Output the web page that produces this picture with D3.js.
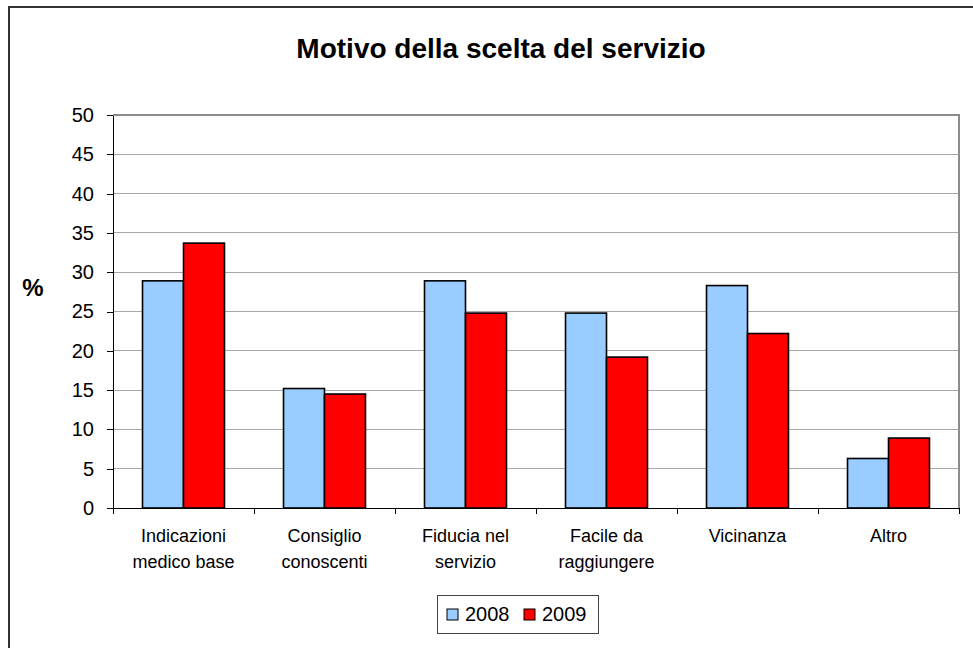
<!DOCTYPE html>
<html>
<head>
<meta charset="utf-8">
<script src="https://cdn.jsdelivr.net/npm/d3@7"></script>
<style>
  body { margin: 0; background: #fff; }
  svg { display: block; font-family: "Liberation Sans", Arial, sans-serif; }
  .axis path, .axis line { stroke: #000; shape-rendering: crispEdges; }
  .axis text { fill: #000; }
</style>
</head>
<body>
<svg id="chart"></svg>
<script>
// Data
const categories = ["Indicazioni\nmedico base", "Consiglio\nconoscenti", "Fiducia nel\nservizio",
                    "Facile da\nraggiungere", "Vicinanza", "Altro"];
const years = ["2008", "2009"];
const values2008 = [28.9, 15.2, 28.9, 24.8, 28.3, 6.3];
const values2009 = [33.7, 14.5, 24.8, 19.2, 22.2, 8.9];
const yTicks = [0, 5, 10, 15, 20, 25, 30, 35, 40, 45, 50];
const colors = {"2008": "#99ccff", "2009": "#ff0000"};

const W = 973, H = 648;
const margin = {top: 115, right: 14, bottom: 140, left: 113},
      width = W - margin.left - margin.right,
      height = H - margin.top - margin.bottom;

const rows = categories.map((c, i) => ({cat: c, "2008": values2008[i], "2009": values2009[i]}));

const svg = d3.select("#chart").attr("width", W).attr("height", H);

// Outer chart frame
svg.append("rect")
   .attr("x", 9).attr("y", 7)
   .attr("width", 1000).attr("height", 700)
   .style("fill", "none")
   .style("stroke", "#333")
   .style("stroke-width", 2);

// Title
svg.append("text")
   .attr("x", 501).attr("y", 58)
   .style("text-anchor", "middle")
   .style("font-weight", "bold")
   .style("font-size", "28px")
   .text("Motivo della scelta del servizio");

const chart = svg.append("g")
   .attr("transform", "translate(" + margin.left + "," + margin.top + ")");

// Scales
let x = d3.scaleBand()
          .domain(categories)
          .range([0, width])
          .paddingInner(0).paddingOuter(0);

let x1 = d3.scaleBand()
           .domain(years)
           .range([0, x.bandwidth()])
           .paddingInner(0).paddingOuter(0.72);

let y = d3.scaleLinear()
          .domain([0, 50])
          .range([height, 0]);

// Gridlines
chart.selectAll(".grid")
     .data(yTicks.filter(d => d > 0 && d < 50))
     .enter().append("line")
     .attr("class", "grid")
     .attr("x1", 0).attr("x2", width)
     .attr("y1", d => y(d)).attr("y2", d => y(d))
     .style("stroke", "#a8a8a8")
     .style("shape-rendering", "crispEdges");

// Plot border (top + right)
chart.append("path")
     .attr("d", "M0," + y(50) + "H" + width + "V" + y(0))
     .style("fill", "none")
     .style("stroke", "#8c8c8c")
     .style("stroke-width", 2);

// Bars
chart.selectAll(".group")
     .data(rows)
     .enter().append("g")
     .attr("class", "group")
     .attr("transform", d => "translate(" + x(d.cat) + ",0)")
     .selectAll("rect")
     .data(d => years.map(k => ({key: k, value: d[k]})))
     .enter().append("rect")
     .attr("x", d => x1(d.key))
     .attr("y", d => y(d.value))
     .attr("width", x1.bandwidth())
     .attr("height", d => y(0) - y(d.value))
     .style("fill", d => colors[d.key])
     .style("stroke", "#000")
     .style("stroke-width", 1.6);

// y-Axis
chart.append("g")
     .attr("class", "axis")
     .call(d3.axisLeft(y).tickValues(yTicks).tickSize(6).tickSizeOuter(0).tickPadding(13))
     .call(g => g.selectAll("text").style("font-size", "20px"));

// x-Axis (line + labels)
const xAxisG = chart.append("g")
     .attr("class", "axis")
     .attr("transform", "translate(0," + height + ")")
     .call(d3.axisBottom(x).tickSize(0).tickSizeOuter(0).tickFormat(""));

// boundary ticks
const bounds = categories.map(c => x(c)).concat([width]);
xAxisG.selectAll(".btick")
      .data(bounds)
      .enter().append("line")
      .attr("class", "btick")
      .attr("x1", d => d).attr("x2", d => d)
      .attr("y1", 0).attr("y2", 6);

// category labels
xAxisG.selectAll(".clabel")
      .data(categories)
      .enter().append("text")
      .attr("class", "clabel")
      .attr("x", d => x(d) + x.bandwidth() / 2)
      .attr("y", 34)
      .style("text-anchor", "middle")
      .style("font-size", "18px")
      .each(function(d) {
        const t = d3.select(this);
        d.split("\n").forEach((line, i) => {
          t.append("tspan")
           .attr("x", x(d) + x.bandwidth() / 2)
           .attr("dy", i === 0 ? 0 : 26)
           .text(line);
        });
      });

// y-Axis label
svg.append("text")
   .attr("x", 33).attr("y", 296)
   .style("text-anchor", "middle")
   .style("font-weight", "bold")
   .style("font-size", "24px")
   .text("%");

// Legend
const legend = svg.append("g").attr("transform", "translate(437,595)");
legend.append("rect")
      .attr("width", 161).attr("height", 38)
      .style("fill", "#fff")
      .style("stroke", "#444")
      .style("shape-rendering", "crispEdges");

const legendX = [10, 87];
const items = legend.selectAll(".item")
      .data(years)
      .enter().append("g")
      .attr("class", "item")
      .attr("transform", (d, i) => "translate(" + legendX[i] + ",0)");
items.append("rect")
     .attr("x", 0).attr("y", 14)
     .attr("width", 11).attr("height", 11)
     .style("fill", d => colors[d])
     .style("stroke", "#000")
     .style("stroke-width", 1);
items.append("text")
     .attr("x", 18).attr("y", 25.5)
     .style("font-size", "20px")
     .text(d => d);
</script>
</body>
</html>
